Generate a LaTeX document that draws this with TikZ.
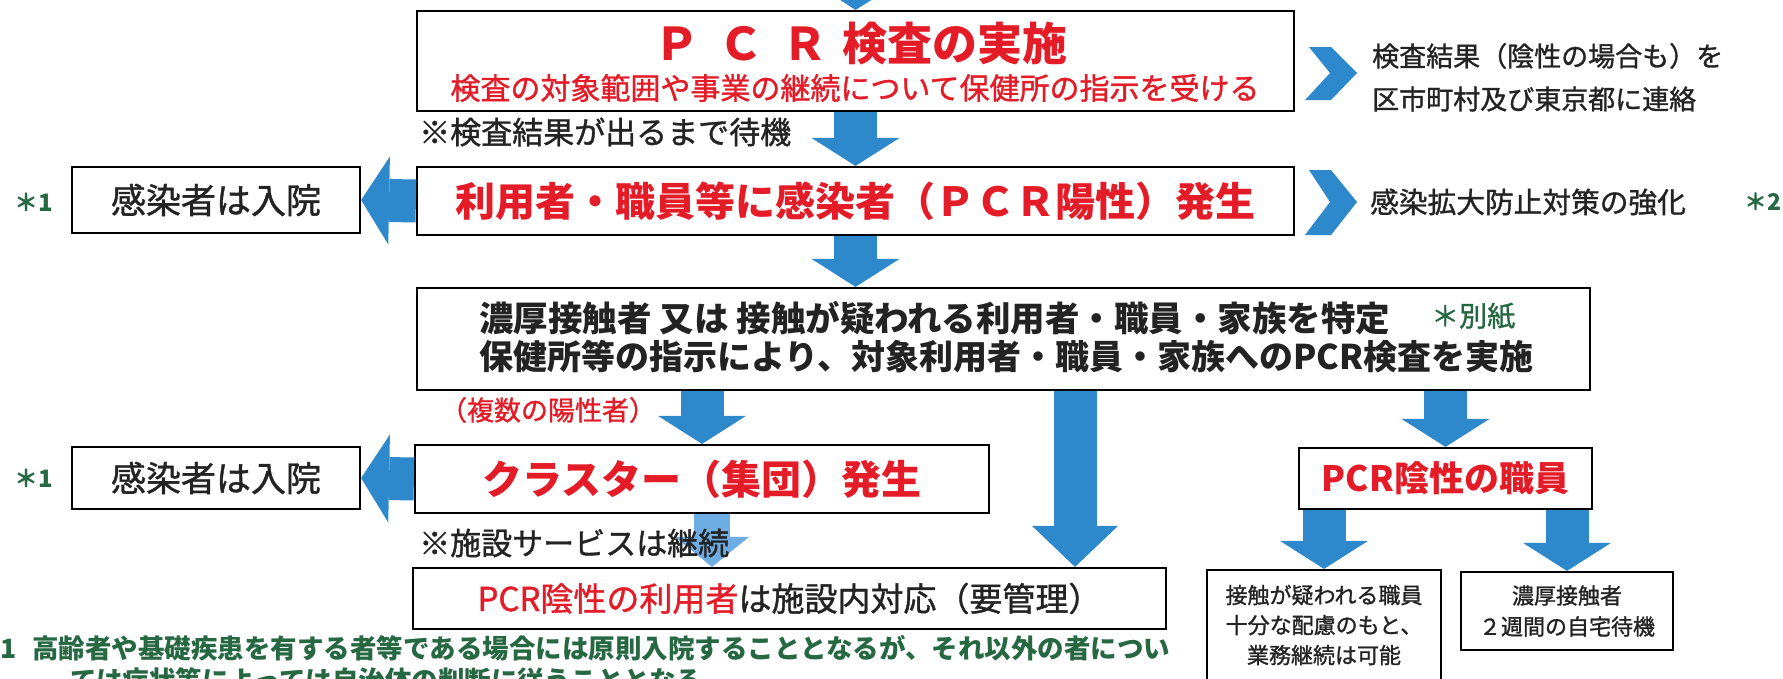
\documentclass[tikz,border=0pt]{standalone}
\usepackage{fontspec}
\setmainfont{Noto Sans CJK JP}
\newfontfamily\medium{Noto Sans CJK JP}[FakeBold=1.2]
\usetikzlibrary{arrows.meta}
\definecolor{ArrowBlue}{RGB}{46,136,204}
\definecolor{LightBlue}{RGB}{110,172,228}
\definecolor{TitleRed}{RGB}{228,28,40}
\definecolor{NoteGreen}{RGB}{38,104,66}
\definecolor{TextGray}{RGB}{35,35,35}

\begin{document}
\begin{tikzpicture}[x = 1pt, y = -1pt]
\tikzstyle{BoxStyle}=[
shape = rectangle,
draw = black,
line width = 2.2pt,
fill = white,
text = TextGray,
inner sep = 0pt]
\tikzstyle{TextStyle}=[
inner sep = 0pt,
text = TextGray]
\tikzstyle{ArrowStyle}=[
draw = ArrowBlue,
line width = 43pt,
-{Triangle[width = 88pt, length = 28pt, line width = 0pt]}]
\tikzstyle{LongArrowStyle}=[
draw = ArrowBlue,
line width = 43pt,
-{Triangle[width = 86pt, length = 41pt, line width = 0pt]}]
\tikzstyle{LightArrowStyle}=[
draw = LightBlue,
line width = 36pt,
-{Triangle[width = 74pt, length = 30pt, line width = 0pt]}]
\useasboundingbox (0,0) rectangle (1783,678);

\node[BoxStyle, minimum width = 877pt, minimum height = 100pt] (test) at (855.5,61) {};
\node[TextStyle, text = TitleRed, font = \bfseries\fontsize{45}{45}\selectfont] (testtitle) at (861,44)
  {Ｐ\hspace{19pt}Ｃ\hspace{19pt}Ｒ\hspace{15pt}検査の実施};
\node[TextStyle, text = TitleRed, font = \medium\fontsize{30}{30}\selectfont] (testsub) at (855,88)
  {検査の対象範囲や事業の継続について保健所の指示を受ける};
\node[BoxStyle, minimum width = 877pt, minimum height = 68pt, text = TitleRed,
  font = \bfseries\fontsize{40}{40}\selectfont] (case) at (855.5,201) {利用者・職員等に感染者（ＰＣＲ陽性）発生};
\node[BoxStyle, minimum width = 288pt, minimum height = 66pt, font = \medium\fontsize{35}{35}\selectfont] (hosp1) at (216,200) {感染者は入院};
\node[BoxStyle, minimum width = 1173pt, minimum height = 102pt] (trace) at (1003.5,339) {};
\node[BoxStyle, minimum width = 574pt, minimum height = 68pt, text = TitleRed,
  font = \bfseries\fontsize{40}{40}\selectfont] (cluster) at (702,479) {クラスター（集団）発生};
\node[BoxStyle, minimum width = 288pt, minimum height = 62pt, font = \medium\fontsize{35}{35}\selectfont] (hosp2) at (216,478) {感染者は入院};
\node[BoxStyle, minimum width = 293pt, minimum height = 61pt, text = TitleRed,
  font = \bfseries\fontsize{35}{35}\selectfont] (staff) at (1445.5,478.5) {PCR陰性の職員};
\node[BoxStyle, minimum width = 753pt, minimum height = 61pt, font = \medium\fontsize{33}{33}\selectfont] (user) at (789.5,598.5)
  {\textcolor{TitleRed}{PCR陰性の利用者}は施設内対応（要管理）};
\node[BoxStyle, minimum width = 234pt, minimum height = 140pt] (duty) at (1324,640) {};
\node[BoxStyle, minimum width = 212pt, minimum height = 78pt, align = center,
  font = \medium\fontsize{22}{31}\selectfont] (home) at (1567,611) {濃厚接触者\\２週間の自宅待機};

\fill[ArrowBlue] (1309,47) -- (1331,47) -- (1357,73) -- (1331,100) -- (1305,100) -- (1330,73) -- cycle;
\fill[ArrowBlue] (1309,170) -- (1331,170) -- (1357,202) -- (1331,235) -- (1305,235) -- (1330,202) -- cycle;

\coordinate (entry) at (856,-40);
\coordinate (direct) at (1075,0);
\coordinate (keep) at ([xshift = 10pt]cluster.south);
\draw[ArrowStyle] (entry) -- (test.north);
\draw[ArrowStyle] (test.south) -- (case.north);
\draw[ArrowStyle] (case.west) -- (hosp1.east);
\draw[ArrowStyle] (case.south) -- (case.south |- trace.north);
\draw[ArrowStyle] (cluster.north |- trace.south) -- (cluster.north);
\draw[ArrowStyle] (cluster.west) -- (hosp2.east);
\draw[LongArrowStyle] (direct |- trace.south) -- (direct |- user.north);
\draw[ArrowStyle] (staff.north |- trace.south) -- (staff.north);
\draw[LightArrowStyle] (keep) -- (keep |- user.north);
\draw[ArrowStyle] (staff.south -| duty.north) -- (duty.north);
\draw[ArrowStyle] (staff.south -| home.north) -- (home.north);

\node[TextStyle, anchor = west, font = \medium\fontsize{31}{31}\selectfont] (wait) at (419,132) {※検査結果が出るまで待機};
\node[TextStyle, anchor = west, font = \medium\fontsize{27}{27}\selectfont] (report1) at (1372,56) {検査結果（陰性の場合も）を};
\node[TextStyle, anchor = west, font = \medium\fontsize{27}{27}\selectfont] (report2) at (1372,99) {区市町村及び東京都に連絡};
\node[TextStyle, anchor = west, font = \medium\fontsize{28.7}{28.7}\selectfont] (spread) at (1370,202) {感染拡大防止対策の強化};
\node[TextStyle, anchor = west, text = NoteGreen, font = \bfseries\fontsize{23}{23}\selectfont] (star2) at (1744,202) {＊2};
\node[TextStyle, text = NoteGreen, font = \bfseries\fontsize{24}{24}\selectfont] (star1a) at (34,202) {＊1};
\node[TextStyle, text = NoteGreen, font = \bfseries\fontsize{24}{24}\selectfont] (star1b) at (34,478) {＊1};
\node[TextStyle, anchor = west, font = \bfseries\fontsize{34.5}{34.5}\selectfont] (trace1) at (479,318)
  {濃厚接触者 又は 接触が疑われる利用者・職員・家族を特定};
\node[TextStyle, anchor = west, text = NoteGreen, font = \medium\fontsize{28}{28}\selectfont] (annex) at (1431,316) {＊別紙};
\node[TextStyle, anchor = west, font = \bfseries\fontsize{34}{34}\selectfont] (trace2) at (479,357)
  {保健所等の指示により、対象利用者・職員・家族へのPCR検査を実施};
\node[TextStyle, text = TitleRed, font = \medium\fontsize{27}{27}\selectfont] (multi) at (548,410) {（複数の陽性者）};
\node[TextStyle, anchor = west, font = \medium\fontsize{31}{31}\selectfont] (keepnote) at (419,543) {※施設サービスは継続};
\node[TextStyle, align = center, font = \medium\fontsize{22}{30}\selectfont] (dutytext) at (1324,625)
  {接触が疑われる職員\\十分な配慮のもと、\\業務継続は可能};
\node[TextStyle, anchor = west, text = NoteGreen, font = \bfseries\fontsize{26.5}{26.5}\selectfont] (note1) at (0,648)
  {1\hspace{16pt}高齢者や基礎疾患を有する者等である場合には原則入院することとなるが、それ以外の者につい};
\node[TextStyle, anchor = west, text = NoteGreen, font = \bfseries\fontsize{26.5}{26.5}\selectfont] (note2) at (70,680)
  {ては症状等によっては自治体の判断に従うこととなる};
\end{tikzpicture}
\end{document}
